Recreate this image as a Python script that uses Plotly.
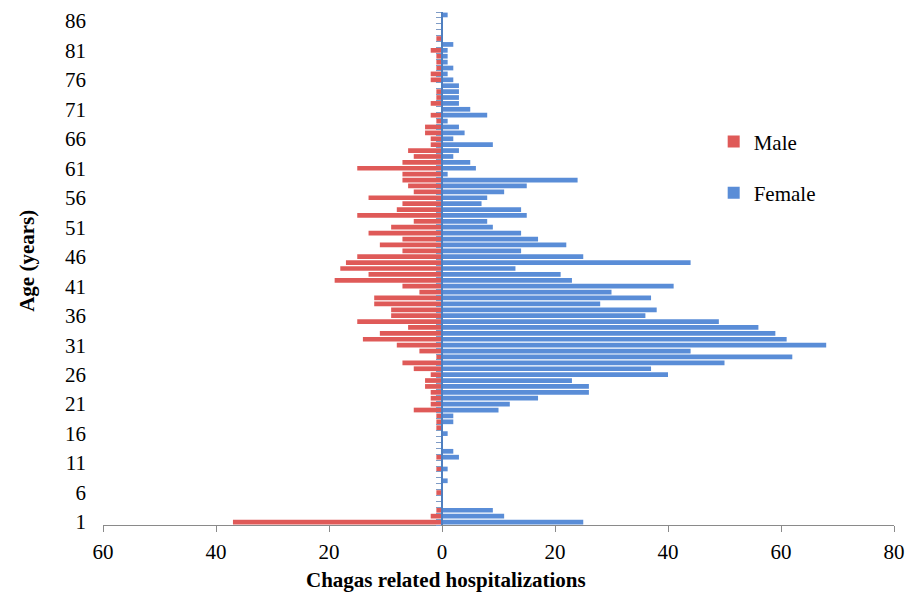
import plotly.graph_objects as go

# ---- data ----
ages = list(range(1, 88))

male = [37, 2, 1, 0, 0, 1, 0, 0, 0, 1,
        0, 1, 0, 0, 0, 0, 1, 1, 1, 5,
        2, 2, 2, 3, 3, 2, 5, 7, 1, 4,
        8, 14, 11, 6, 15, 9, 9, 12, 12, 4,
        7, 19, 13, 18, 17, 15, 7, 11, 7, 13,
        9, 5, 15, 8, 7, 13, 5, 6, 7, 7,
        15, 7, 5, 6, 2, 2, 3, 3, 1, 2,
        0, 2, 1, 1, 0, 2, 2, 1, 1, 1,
        2, 0, 1, 0, 0, 0, 0]

female = [25, 11, 9, 0, 0, 0, 0, 1, 0, 1,
          0, 3, 2, 0, 0, 1, 0, 2, 2, 10,
          12, 17, 26, 26, 23, 40, 37, 50, 62, 44,
          68, 61, 59, 56, 49, 36, 38, 28, 37, 30,
          41, 23, 21, 13, 44, 25, 14, 22, 17, 14,
          9, 8, 15, 14, 7, 8, 11, 15, 24, 1,
          6, 5, 2, 3, 9, 2, 4, 3, 1, 8,
          5, 3, 3, 3, 3, 2, 1, 2, 1, 1,
          1, 2, 0, 0, 0, 0, 1]

age_ticks = list(range(1, 87, 5))
x_tick_vals = [-60, -40, -20, 0, 20, 40, 60, 80]
x_tick_text = ["60", "40", "20", "0", "20", "40", "60", "80"]
series_names = ["Male", "Female"]
x_title = "Chagas related hospitalizations"
y_title = "Age (years)"

RED = "#DF5A58"
BLUE = "#5A8DD7"
FONT = "Liberation Serif"

fig = go.Figure()
fig.add_trace(go.Bar(y=ages, x=[-v for v in male], orientation="h",
                     name=series_names[0], marker=dict(color=RED, line=dict(width=0)),
                     legendgroup="m"))
fig.add_trace(go.Bar(y=ages, x=female, orientation="h",
                     name=series_names[1], marker=dict(color=BLUE, line=dict(width=0)),
                     legendgroup="f"))

fig.update_layout(
    width=914, height=598,
    margin=dict(l=103, r=17, t=9, b=73),
    paper_bgcolor="white", plot_bgcolor="white",
    barmode="relative", bargap=0.2,
    font=dict(family=FONT, size=21, color="black"),
    xaxis=dict(range=[-60, 80], tickvals=x_tick_vals, ticktext=x_tick_text,
               showgrid=False, zeroline=False, showline=True,
               linecolor="#8a8a8a", linewidth=1, ticks="outside", ticklen=6,
               tickcolor="#8a8a8a", tickfont=dict(family=FONT, size=21),
               ticklabelstandoff=2),
    yaxis=dict(range=[0.5, 87.5], tickvals=age_ticks,
               showgrid=False, zeroline=False, showline=False, ticks="",
               tickfont=dict(family=FONT, size=21), ticklabelstandoff=16),
    yaxis2=dict(range=[0.5, 87.5], overlaying="y", anchor="free",
                position=60 / 140, side="left",
                tickvals=[a + 0.5 for a in range(0, 88)],
                ticks="outside", ticklen=5, tickcolor="#7f9cc6",
                showticklabels=False, showgrid=False, zeroline=False,
                showline=True, linecolor="#4F7FC0", linewidth=1.5),
    showlegend=True,
    legend=dict(x=(716 - 103) / 794, y=1 - (119 - 9) / 516,
                xanchor="left", yanchor="top",
                font=dict(family=FONT, size=21),
                tracegroupgap=21, traceorder="grouped",
                bgcolor="rgba(0,0,0,0)"),
    annotations=[
        dict(text="<b>" + x_title + "</b>", xref="paper", yref="paper",
             x=(447 - 103) / 794, y=(525 - 580) / 516,
             xanchor="center", yanchor="middle", showarrow=False,
             font=dict(family=FONT, size=21, color="black")),
        dict(text="<b>" + y_title + "</b>", xref="paper", yref="paper",
             x=(26 - 103) / 794, y=1 - (259 - 9) / 516, textangle=-90,
             xanchor="center", yanchor="middle", showarrow=False,
             font=dict(family=FONT, size=21, color="black")),
    ],
)

# empty trace so that the central category axis is rendered
fig.add_trace(go.Scatter(x=[], y=[], yaxis="y2", showlegend=False, hoverinfo="skip"))

fig.write_html("out.html", config={"displayModeBar": False},
               post_script="document.body.style.margin='0';")
